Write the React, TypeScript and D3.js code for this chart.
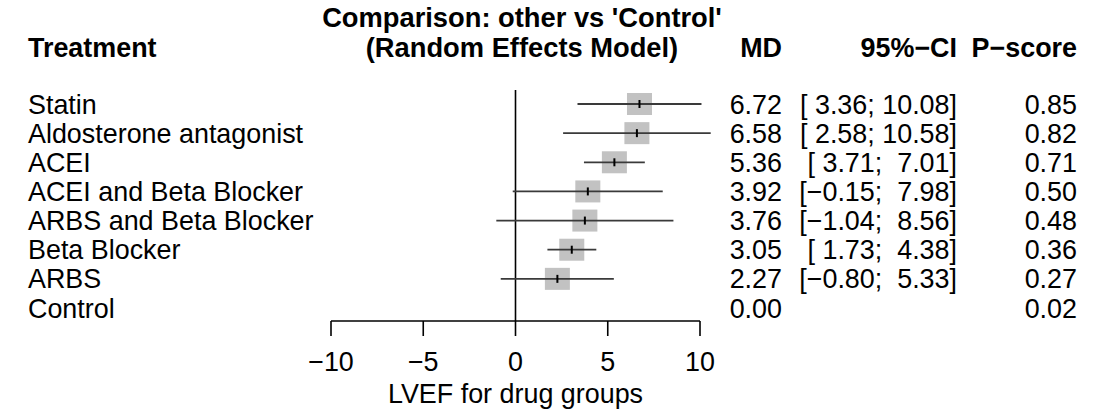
import React from "react";
import * as d3 from "d3";

const treatments = [
  "Statin",
  "Aldosterone antagonist",
  "ACEI",
  "ACEI and Beta Blocker",
  "ARBS and Beta Blocker",
  "Beta Blocker",
  "ARBS",
  "Control",
];
const md = [6.72, 6.58, 5.36, 3.92, 3.76, 3.05, 2.27, 0.0];
const lower: (number | null)[] = [3.36, 2.58, 3.71, -0.15, -1.04, 1.73, -0.8, null];
const upper: (number | null)[] = [10.08, 10.58, 7.01, 7.98, 8.56, 4.38, 5.33, null];
const pscore = [0.85, 0.82, 0.71, 0.5, 0.48, 0.36, 0.27, 0.02];
const xTicks = [-10, -5, 0, 5, 10];

const FONT = "'Liberation Sans', Arial, Helvetica, sans-serif";
const FS = 26.9;

export default function App() {
  const x = d3.scaleLinear().domain([-10, 10]).range([331, 700]);
  const y = d3
    .scalePoint<string>()
    .domain(treatments)
    .range([104, 308]);
  const f2 = d3.format(".2f");
  const pad = (s: string, n: number) => (s.length < n ? " ".repeat(n - s.length) + s : s);
  const ciText = (lo: number | null, hi: number | null) =>
    lo == null || hi == null ? "" : `[${pad(f2(lo), 5)}; ${pad(f2(hi), 5)}]`;

  const axisY = 321;
  const textStyle: React.CSSProperties = { whiteSpace: "pre" };

  return (
    <svg
      width={1110}
      height={414}
      style={{ position: "absolute", left: 0, top: 0, background: "#fff" }}
      fontFamily={FONT}
      fontSize={FS}
    >
      <rect x={0} y={0} width={1110} height={414} fill="#fff" />
      {/* Headers */}
      <text x={522} y={27} textAnchor="middle" fontWeight="bold" fontSize={27.3} fill="#000">
        Comparison: other vs 'Control'
      </text>
      <text x={522} y={57} textAnchor="middle" fontWeight="bold" fontSize={27.3} fill="#000">
        (Random Effects Model)
      </text>
      <text x={28} y={57} fontWeight="bold" fill="#000">
        Treatment
      </text>
      <text x={782} y={57} textAnchor="end" fontWeight="bold" fill="#000">
        MD
      </text>
      <text x={957} y={57} textAnchor="end" fontWeight="bold" fill="#000">
        95%−CI
      </text>
      <text x={1077} y={57} textAnchor="end" fontWeight="bold" fill="#000">
        P−score
      </text>

      {/* zero line */}
      <line x1={x(0)} x2={x(0)} y1={90} y2={axisY} stroke="#000" strokeWidth={1.6} />

      {treatments.map((t, i) => {
        const cy = y(t)!;
        const lo = lower[i];
        const hi = upper[i];
        return (
          <g key={t}>
            <text x={28} y={cy + 9.5} fill="#000">
              {t}
            </text>
            {lo != null && hi != null && (
              <>
                <rect
                  x={x(md[i]) - 12.5}
                  y={cy - 11}
                  width={25}
                  height={22}
                  fill="#c2c2c2"
                />
                <line x1={x(lo)} x2={x(hi)} y1={cy} y2={cy} stroke="#3a3a3a" strokeWidth={1.8} />
                <line
                  x1={x(md[i])}
                  x2={x(md[i])}
                  y1={cy - 4}
                  y2={cy + 4}
                  stroke="#000"
                  strokeWidth={2}
                />
              </>
            )}
            <text x={782} y={cy + 9.5} textAnchor="end" fill="#000" style={textStyle}>
              {f2(md[i])}
            </text>
            <text x={957} y={cy + 9.5} textAnchor="end" fill="#000" style={textStyle}>
              {ciText(lo, hi)}
            </text>
            <text x={1077} y={cy + 9.5} textAnchor="end" fill="#000" style={textStyle}>
              {f2(pscore[i])}
            </text>
          </g>
        );
      })}

      {/* x axis */}
      <line x1={x(-10)} x2={x(10)} y1={axisY} y2={axisY} stroke="#000" strokeWidth={1.6} />
      {xTicks.map((v) => (
        <g key={v}>
          <line x1={x(v)} x2={x(v)} y1={axisY} y2={axisY + 15} stroke="#000" strokeWidth={1.6} />
          <text x={x(v)} y={371} textAnchor="middle" fill="#000">
            {d3.format("")(v)}
          </text>
        </g>
      ))}
      <text x={x(0)} y={403} textAnchor="middle" fill="#000">
        LVEF for drug groups
      </text>
    </svg>
  );
}
